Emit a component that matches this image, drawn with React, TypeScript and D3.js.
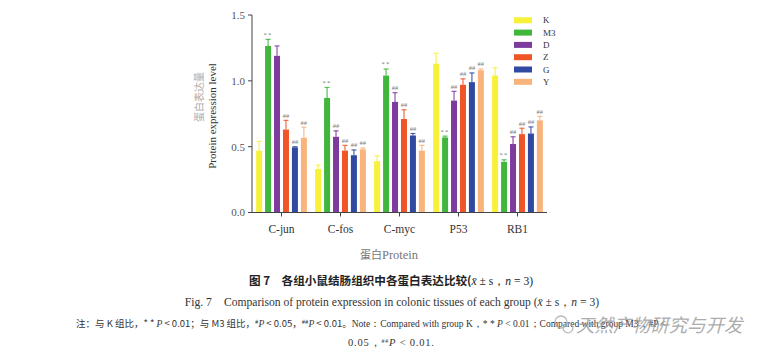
import React from 'react';
import * as d3 from 'd3';

// 数据：均值和标准差
const categories = ['C-jun', 'C-fos', 'C-myc', 'P53', 'RB1'];
const groups = ['K', 'M3', 'D', 'Z', 'G', 'Y'];
const colors = ['#f7f13a', '#41b63c', '#7d3b9e', '#ef5527', '#2f4aa0', '#f8b47c'];

const valK = [0.47, 0.33, 0.39, 1.13, 1.04];
const valM3 = [1.265, 0.87, 1.04, 0.57, 0.385];
const valD = [1.19, 0.575, 0.84, 0.85, 0.52];
const valZ = [0.63, 0.47, 0.71, 0.97, 0.595];
const valG = [0.495, 0.435, 0.585, 0.99, 0.6];
const valY = [0.568, 0.48, 0.47, 1.08, 0.7];

const sdK = [0.07, 0.03, 0.04, 0.08, 0.06];
const sdM3 = [0.05, 0.08, 0.05, 0.01, 0.015];
const sdD = [0.075, 0.045, 0.07, 0.07, 0.055];
const sdZ = [0.07, 0.04, 0.07, 0.045, 0.045];
const sdG = [0.005, 0.04, 0.015, 0.07, 0.05];
const sdY = [0.08, 0.01, 0.04, 0.01, 0.03];

const sigK = ['', '', '', '', ''];
const sigM3 = ['**', '**', '**', '**', '**'];
const sigD = ['', '##', '##', '##', '##'];
const sigZ = ['##', '##', '##', '##', '##'];
const sigG = ['##', '##', '##', '##', '##'];
const sigY = ['##', '##', '##', '##', '##'];

const yTicks = [0, 0.5, 1.0, 1.5];

const values = [valK, valM3, valD, valZ, valG, valY];
const sds = [sdK, sdM3, sdD, sdZ, sdG, sdY];
const sigs = [sigK, sigM3, sigD, sigZ, sigG, sigY];

const W = 777;
const H = 353;
const serif = '"Liberation Serif", "DejaVu Serif", serif';
const cjk = '"Noto Sans CJK SC", sans-serif';

export default function App() {
  const left = 252;
  const right = 547;
  const top = 15;
  const bottom = 212.5;

  const y = d3.scaleLinear().domain([0, 1.5]).range([bottom, top]);
  const x0 = d3.scaleBand<string>().domain(categories).range([left, right]).paddingInner(0.14).paddingOuter(0.07);
  const x1 = d3.scaleBand<string>().domain(groups).range([0, x0.bandwidth()]).paddingInner(0.33).paddingOuter(0);
  const bw = x1.bandwidth();

  return (
    <div style={{ position: 'absolute', left: 0, top: 0 }}>
      <svg width={W} height={H} style={{ display: 'block', background: '#fff' }}>
        {/* 柱子、误差线和显著性标记 */}
        {groups.map((g, gi) => (
          <g key={g}>
            {categories.map((c, ci) => {
              const v = values[gi][ci];
              const e = v + sds[gi][ci];
              const bx = (x0(c) ?? 0) + (x1(g) ?? 0);
              const cx = bx + bw / 2;
              return (
                <g key={c}>
                  <line x1={cx} x2={cx} y1={y(v)} y2={y(e)} stroke={colors[gi]} strokeWidth={1.2} opacity={0.85} />
                  <line x1={cx - 2.5} x2={cx + 2.5} y1={y(e)} y2={y(e)} stroke={colors[gi]} strokeWidth={1.2} opacity={0.85} />
                  <rect x={bx} y={y(v)} width={bw} height={y(0) - y(v)} fill={colors[gi]} />
                  {sigs[gi][ci] && (
                    <text x={cx} y={y(e) - 2.5} textAnchor="middle" fontFamily={serif} fontSize={6.5}
                      fill="#777" letterSpacing={sigs[gi][ci] === '**' ? 1.2 : 0}>
                      {sigs[gi][ci]}
                    </text>
                  )}
                </g>
              );
            })}
          </g>
        ))}

        {/* y 轴 */}
        <line x1={left} x2={left} y1={top} y2={bottom} stroke="#444" strokeWidth={1} />
        {yTicks.map(t => (
          <g key={t} transform={`translate(${left},${y(t)})`}>
            <line x1={-4} x2={0} stroke="#444" />
            <text x={-7} dy="0.35em" textAnchor="end" fontFamily={serif} fontSize={11} fill="#555">
              {d3.format('.1f')(t)}
            </text>
          </g>
        ))}
        <text transform="translate(203,97) rotate(-90)" textAnchor="middle" fontFamily={cjk} fontSize={10} fill="#aaa">
          蛋白表达量
        </text>
        <text transform="translate(216,116) rotate(-90)" textAnchor="middle" fontFamily={serif} fontSize={11} fill="#333">
          Protein expression level
        </text>

        {/* x 轴 */}
        <line x1={left} x2={right} y1={bottom} y2={bottom} stroke="#444" strokeWidth={1} />
        {categories.map(c => {
          const cx = (x0(c) ?? 0) + x0.bandwidth() / 2;
          return (
            <g key={c} transform={`translate(${cx},${bottom})`}>
              <line y1={0} y2={4} stroke="#444" />
              <text y={20} textAnchor="middle" fontFamily={serif} fontSize={11.5} fill="#333">{c}</text>
            </g>
          );
        })}
        <text x={389} y={259} textAnchor="middle" fill="#777">
          <tspan fontFamily={cjk} fontSize={11}>蛋白</tspan>
          <tspan fontFamily={serif} fontSize={12.5}>Protein</tspan>
        </text>

        {/* 图例 */}
        {groups.map((g, gi) => (
          <g key={g} transform={`translate(514,${20.3 + gi * 12.3})`}>
            <rect x={0} y={-3} width={18} height={6} fill={colors[gi]} />
            <text x={29} dy="0.35em" fontFamily={serif} fontSize={9} fill="#333">{g}</text>
          </g>
        ))}

        {/* 图题与注释 */}
        <text x={391} y={285} textAnchor="middle" fontFamily={cjk} fontSize={11.6} fontWeight="bold" fill="#222">
          图 7　各组小鼠结肠组织中各蛋白表达比较(
          <tspan fontFamily={serif} fontStyle="italic" fontWeight="normal">x̄</tspan>
          <tspan fontFamily={serif} fontWeight="normal"> ± s，</tspan>
          <tspan fontFamily={serif} fontStyle="italic" fontWeight="normal">n</tspan>
          <tspan fontFamily={serif} fontWeight="normal"> = 3)</tspan>
        </text>
        <text x={392} y={306} textAnchor="middle" fontFamily={serif} fontSize={11.6} fill="#333">
          Fig. 7　Comparison of protein expression in colonic tissues of each group (
          <tspan fontStyle="italic">x̄</tspan> ± s，<tspan fontStyle="italic">n</tspan> = 3)
        </text>
        <text x={76} y={327} fontFamily={cjk} fontSize={9.5} fill="#333">
          注：与 K 组比，* * <tspan fontFamily={serif} fontStyle="italic">P</tspan> &lt; 0.01；与 M3 组比，
          <tspan fontSize={6} dy={-3}>#</tspan><tspan dy={3} fontFamily={serif} fontStyle="italic">P</tspan> &lt; 0.05，
          <tspan fontSize={6} dy={-3}>##</tspan><tspan dy={3} fontFamily={serif} fontStyle="italic">P</tspan> &lt; 0.01。
          <tspan fontFamily={serif}>Note：Compared with group K，* * <tspan fontStyle="italic">P</tspan>  &lt;  0.01；Compared with group M3，#P &lt;</tspan>
        </text>
        <text x={348} y={346} fontFamily={serif} fontSize={10.5} letterSpacing={0.8} fill="#333">
          0.05，<tspan fontSize={6} dy={-3}>##</tspan><tspan dy={3} fontStyle="italic">P</tspan>  &lt;  0.01.
        </text>

        {/* 水印 */}
        <g opacity={0.8}>
          <circle cx={561} cy={322} r={6} fill="none" stroke="#aaa" strokeWidth={1.3} />
          <circle cx={568} cy={328} r={4.8} fill="none" stroke="#aaa" strokeWidth={1.3} />
          <text x={576} y={332} fontFamily={cjk} fontSize={18.5} fill="#999" fontStyle="italic">天然产物研究与开发</text>
        </g>
      </svg>
    </div>
  );
}
